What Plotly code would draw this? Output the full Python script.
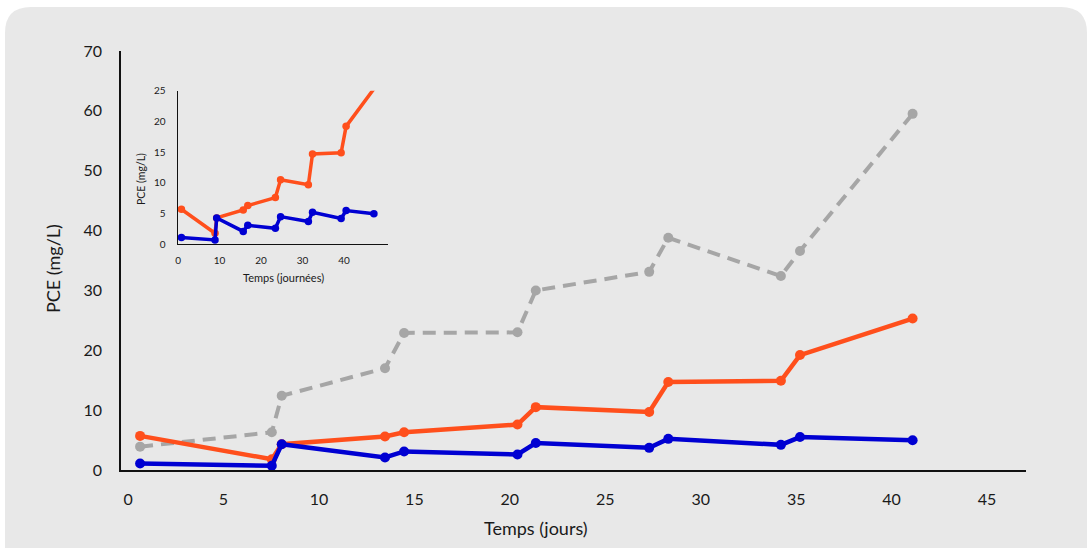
import plotly.graph_objects as go

W, H = 1089, 548

# ---- data ----
days_main = [0.63, 7.53, 8.05, 13.46, 14.46, 20.4, 21.36, 27.3, 28.3, 34.2, 35.2, 41.1]
days_inset = [0.8, 8.9, 9.3, 15.7, 16.8, 23.45, 24.7, 31.4, 32.4, 39.3, 40.5, 47.2]
pce_orange = [5.7, 1.8, 4.3, 5.6, 6.3, 7.6, 10.5, 9.7, 14.7, 14.9, 19.2, 25.3]
pce_blue = [1.1, 0.7, 4.3, 2.1, 3.1, 2.6, 4.5, 3.7, 5.2, 4.2, 5.5, 4.96]
pce_gray = [3.9, 6.3, 12.4, 17.0, 22.9, 23.0, 30.0, 33.1, 38.8, 32.4, 36.6, 59.5]

main_xticks = [0, 5, 10, 15, 20, 25, 30, 35, 40, 45]
main_yticks = [0, 10, 20, 30, 40, 50, 60, 70]
inset_xticks = [0, 10, 20, 30, 40]
inset_yticks = [0, 5, 10, 15, 20, 25]

ORANGE = "#FF4F1C"
BLUE = "#0000D2"
GRAY = "#A6A6A6"
FONT = "Lato"

def px2x(px):
    return px / W

def px2y(py):
    return 1 - py / H

fig = go.Figure()

# main chart
fig.add_trace(go.Scatter(x=days_main, y=pce_gray, mode="lines+markers",
                         line=dict(color=GRAY, width=4, dash="13px,8px"),
                         marker=dict(color=GRAY, size=10), xaxis="x", yaxis="y",
                         cliponaxis=False))
fig.add_trace(go.Scatter(x=days_main, y=pce_orange, mode="lines+markers",
                         line=dict(color=ORANGE, width=4.5),
                         marker=dict(color=ORANGE, size=10), xaxis="x", yaxis="y",
                         cliponaxis=False))
fig.add_trace(go.Scatter(x=days_main, y=pce_blue, mode="lines+markers",
                         line=dict(color=BLUE, width=4.5),
                         marker=dict(color=BLUE, size=10), xaxis="x", yaxis="y",
                         cliponaxis=False))

# inset chart
fig.add_trace(go.Scatter(x=days_inset, y=pce_orange, mode="lines+markers",
                         line=dict(color=ORANGE, width=3.5),
                         marker=dict(color=ORANGE, size=7.5), xaxis="x2", yaxis="y2",
                         cliponaxis=False))
fig.add_trace(go.Scatter(x=days_inset, y=pce_blue, mode="lines+markers",
                         line=dict(color=BLUE, width=3.5),
                         marker=dict(color=BLUE, size=7.5), xaxis="x2", yaxis="y2",
                         cliponaxis=False))

# rounded background panel
x0, y0, x1, y1, r = 5, 7, 1087, 580, 26
pts = [
    ("M", (x0 + r, y0)),
    ("L", (x1 - r, y0)),
    ("Q", (x1, y0), (x1, y0 + r)),
    ("L", (x1, y1 - r)),
    ("Q", (x1, y1), (x1 - r, y1)),
    ("L", (x0 + r, y1)),
    ("Q", (x0, y1), (x0, y1 - r)),
    ("L", (x0, y0 + r)),
    ("Q", (x0, y0), (x0 + r, y0)),
]
path = ""
for p in pts:
    cmd = p[0]
    coords = " ".join(f"{px2x(a):.5f},{px2y(b):.5f}" for a, b in p[1:])
    path += f"{cmd} {coords} "
path += "Z"

fig.add_shape(type="path", path=path, xref="paper", yref="paper",
              fillcolor="#E8E8E8", line=dict(width=0), layer="below")

axis_common = dict(showgrid=False, zeroline=False, showline=True, automargin=False,
                   linecolor="#111111", tickcolor="rgba(0,0,0,0)", ticks="outside")

fig.update_layout(
    width=W, height=H,
    margin=dict(l=0, r=0, t=0, b=0, pad=0, autoexpand=False),
    paper_bgcolor="white",
    plot_bgcolor="rgba(0,0,0,0)",
    showlegend=False,
    font=dict(family=FONT, color="#1a1a1a"),
    xaxis=dict(domain=[px2x(121), px2x(1026)], range=[-0.37, 47.04],
               tickvals=main_xticks, ticklen=14, linewidth=1.6,
               tickfont=dict(size=16, family=FONT), anchor="y", **axis_common),
    yaxis=dict(domain=[px2y(470), px2y(51)], range=[0, 70],
               tickvals=main_yticks, ticklen=14, linewidth=1.6,
               tickfont=dict(size=16, family=FONT), anchor="x", **axis_common),
    xaxis2=dict(domain=[px2x(177.7), px2x(388)], range=[-0.1, 50.6],
                tickvals=inset_xticks, ticklen=7, linewidth=1.3,
                tickfont=dict(size=10, family=FONT), anchor="y2", **axis_common),
    yaxis2=dict(domain=[px2y(244.3), px2y(90.7)], range=[0, 25],
                tickvals=inset_yticks, ticklen=9, linewidth=1.3,
                tickfont=dict(size=10, family=FONT), anchor="x2", **axis_common),
)

# axis titles
ann_common = dict(xref="paper", yref="paper", showarrow=False,
                  xanchor="center", yanchor="middle")
fig.add_annotation(text="Temps (jours)", x=px2x(536), y=px2y(528),
                   font=dict(size=18, family=FONT, color="#1a1a1a"), **ann_common)
fig.add_annotation(text="PCE (mg/L)", x=px2x(53), y=px2y(268), textangle=-90,
                   font=dict(size=18, family=FONT, color="#1a1a1a"), **ann_common)
fig.add_annotation(text="Temps (journées)", x=px2x(283), y=px2y(277),
                   font=dict(size=11, family=FONT, color="#1a1a1a"), **ann_common)
fig.add_annotation(text="PCE (mg/L)", x=px2x(141), y=px2y(179), textangle=-90,
                   font=dict(size=10.5, family=FONT, color="#1a1a1a"), **ann_common)

fig.write_html("out.html", config={"displayModeBar": False},
               post_script="document.body.style.margin='0px';document.body.style.overflow='hidden';")
